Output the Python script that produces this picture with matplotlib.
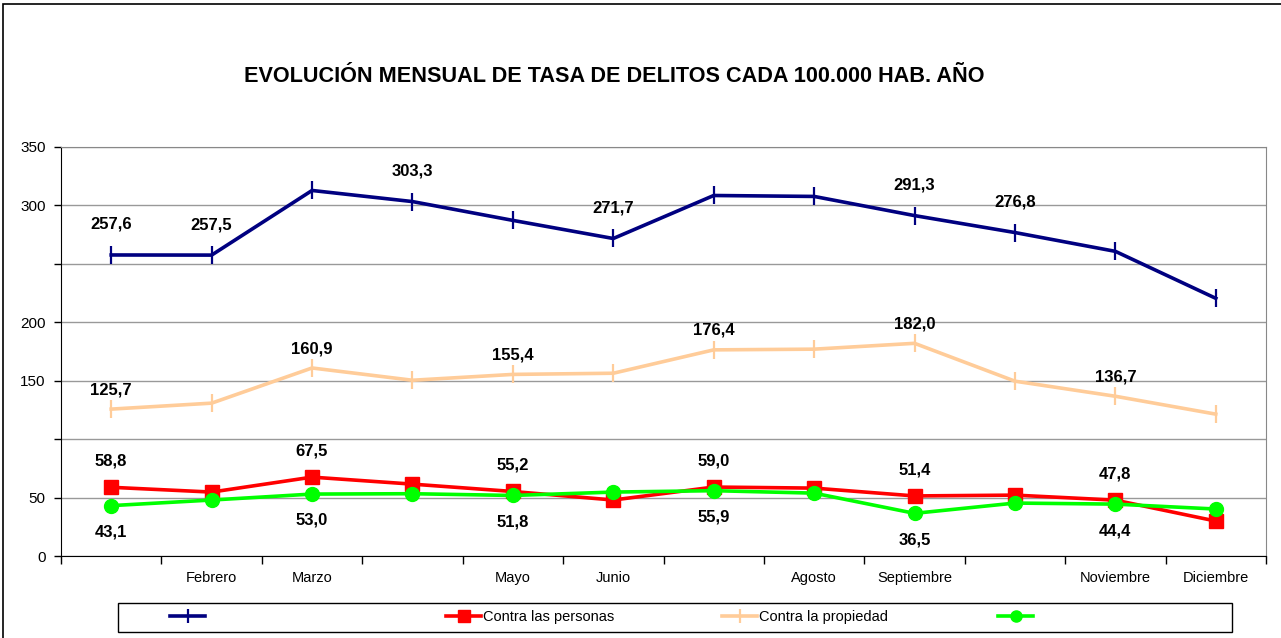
import numpy as np
import matplotlib
matplotlib.use("Agg")
from matplotlib import pyplot as plt
from matplotlib.lines import Line2D
from matplotlib.patches import Rectangle

plt.rcParams['font.family'] = ['Liberation Sans', 'DejaVu Sans']

# data
months = ['Enero', 'Febrero', 'Marzo', 'Abril', 'Mayo', 'Junio', 'Julio',
          'Agosto', 'Septiembre', 'Octubre', 'Noviembre', 'Diciembre']
shown_months = ['', 'Febrero', 'Marzo', '', 'Mayo', 'Junio', '',
                'Agosto', 'Septiembre', '', 'Noviembre', 'Diciembre']
total = [257.6, 257.5, 312.8, 303.3, 287.2, 271.7, 308.5, 307.7, 291.3, 276.8, 260.7, 220.5]
propiedad = [125.7, 130.8, 160.9, 150.4, 155.4, 156.4, 176.4, 177.0, 182.0, 149.6, 136.7, 121.4]
personas = [58.8, 54.7, 67.5, 61.5, 55.2, 47.9, 59.0, 58.1, 51.4, 52.1, 47.8, 29.9]
otros = [43.1, 47.9, 53.0, 53.3, 51.8, 54.7, 55.9, 53.8, 36.5, 45.3, 44.4, 40.2]
labeled_total = [0, 1, 3, 5, 8, 9]
labeled_other = [0, 2, 4, 6, 8, 10]
yticks = [0, 50, 100, 150, 200, 250, 300, 350]
ytick_labels = ['0', '50', '', '150', '200', '', '300', '350']

W, H = 1281, 638
fig = plt.figure(figsize=(W / 100, H / 100), dpi=100)
fig.patch.set_facecolor('white')

# outer chart border
fig.patches.append(Rectangle((3 / W, -0.05), 1.1, 1 - 4 / H + 0.05, transform=fig.transFigure,
                             fill=False, edgecolor='black', linewidth=1.2))

ax = fig.add_axes([61 / W, 1 - 556 / H, 1205 / W, 409 / H])
x = np.arange(len(months)) + 0.5

navy = '#000080'
peach = '#FFCC99'
red = '#FF0000'
green = '#00FF00'

ax.plot(x, total, color=navy, lw=2.6, marker='|', ms=13, mew=1.6, zorder=4)
ax.plot(x, propiedad, color=peach, lw=2.6, marker='|', ms=13, mew=1.6, zorder=3)
ax.plot(x, personas, color=red, lw=2.6, marker='s', ms=10, zorder=4)
ax.plot(x, otros, color=green, lw=2.6, marker='o', ms=10, zorder=5)

def fmt(v):
    return f'{v:.1f}'.replace('.', ',')

lab_kw = dict(ha='center', va='center', fontsize=12, fontweight='bold', textcoords='offset points')
for i in labeled_total:
    ax.annotate(fmt(total[i]), (x[i], total[i]), xytext=(0, 22), **lab_kw)
for i in labeled_other:
    ax.annotate(fmt(propiedad[i]), (x[i], propiedad[i]), xytext=(0, 14), **lab_kw)
    ax.annotate(fmt(personas[i]), (x[i], personas[i]), xytext=(0, 19), **lab_kw)
    ax.annotate(fmt(otros[i]), (x[i], otros[i]), xytext=(0, -19), **lab_kw)

ax.set_xlim(0, 12)
ax.set_ylim(0, 350)
ax.set_yticks(yticks)
ax.set_yticklabels(ytick_labels, fontsize=11)
ax.yaxis.grid(True, color='#999999', lw=1)
ax.set_axisbelow(True)
ax.set_xticks(np.arange(0, 13))
ax.set_xticklabels([])
ax.set_xticks(x, minor=True)
ax.set_xticklabels(shown_months, minor=True, fontsize=10.5)
ax.tick_params(axis='x', which='major', length=6, width=1, direction='out')
ax.tick_params(axis='x', which='minor', length=0, pad=11)
ax.tick_params(axis='y', length=5, width=1, direction='out', pad=6)
ax.spines['left'].set_color('black')
ax.spines['bottom'].set_color('black')
ax.spines['top'].set_color('#888888')
ax.spines['right'].set_color('#888888')

fig.text(614 / W, 1 - 77 / H, 'EVOLUCIÓN MENSUAL DE TASA DE DELITOS CADA 100.000 HAB. AÑO',
         ha='center', va='center', fontsize=15.6, fontweight='bold')

# legend
fig.patches.append(Rectangle((118 / W, 1 - 632 / H), 1114 / W, 29 / H, transform=fig.transFigure,
                             fill=False, edgecolor='black', linewidth=1))
entries = [
    (Line2D([], [], color=navy, lw=2.6, marker='|', ms=10, mew=1.6), ''),
    (Line2D([], [], color=red, lw=2.6, marker='s', ms=9), 'Contra las personas'),
    (Line2D([], [], color=peach, lw=2.6, marker='|', ms=10, mew=1.6), 'Contra la propiedad'),
    (Line2D([], [], color=green, lw=2.6, marker='o', ms=8), ''),
]
for k, (h, lab) in enumerate(entries):
    fig.legend([h], [lab], loc='center left', bbox_to_anchor=((163 + k * 276) / W, 1 - 617 / H),
               frameon=False, fontsize=10.5, handlelength=2.4, handletextpad=0.1, borderpad=0)

fig.savefig('out.png', dpi=100)
